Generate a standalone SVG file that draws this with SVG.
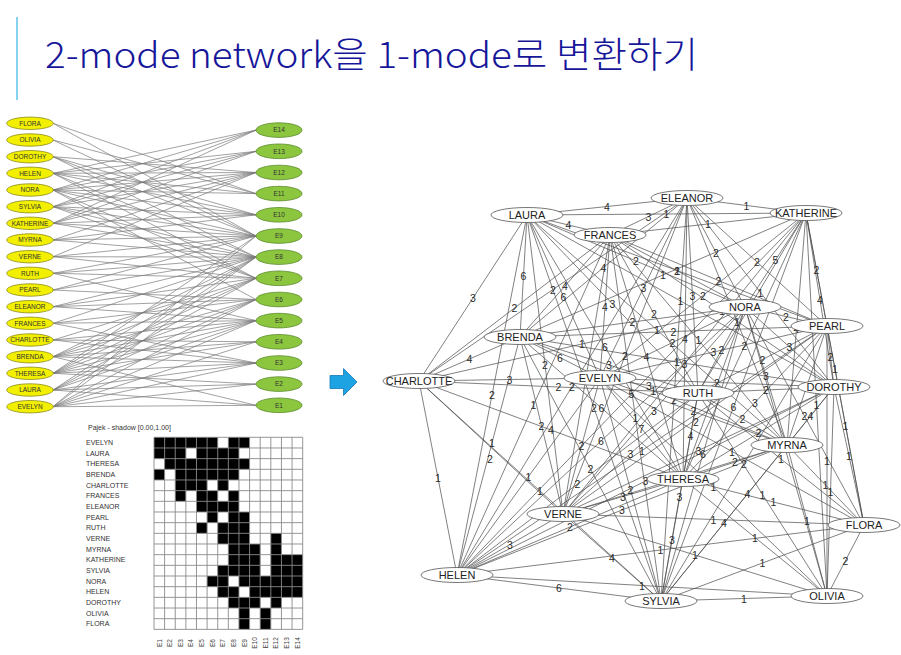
<svg xmlns="http://www.w3.org/2000/svg" width="901" height="655" viewBox="0 0 901 655">
<style>
  .title { font-family: "Noto Sans CJK KR", "Noto Sans", sans-serif; font-size: 36px; font-weight: 300; fill: #16169a; }
  .bip { fill: none; stroke: #7a7a7a; stroke-width: 0.7; }
  .woman ellipse { fill: #f2f000; stroke: #8c8c1e; stroke-width: 0.8; }
  .event ellipse { fill: #8cc63f; stroke: #5c8c2c; stroke-width: 0.8; }
  .small { font-family: "Liberation Sans", Arial, sans-serif; font-size: 6.5px; fill: #333; text-anchor: middle; }
  .mlab { font-family: "Liberation Sans", Arial, sans-serif; font-size: 7px; fill: #333; }
  .clab { font-family: "Liberation Sans", Arial, sans-serif; font-size: 6.5px; fill: #444; text-anchor: middle; }
  .edge { fill: none; stroke: #4a4a4a; stroke-width: 0.7; }
  .wt { font-family: "Liberation Sans", Arial, sans-serif; font-size: 10.5px; fill: #2a2a2a; text-anchor: middle; }
  .node ellipse { fill: #fff; stroke: #555; stroke-width: 0.8; }
  .node text { font-family: "Liberation Sans", Arial, sans-serif; font-size: 11px; fill: #222; text-anchor: middle; }
</style>

<!-- heading -->
<line x1="17" y1="17" x2="17" y2="100" stroke="#86d2f2" stroke-width="2"/>
<text class="title" x="45" y="68" textLength="653" lengthAdjust="spacingAndGlyphs">2-mode network을 1-mode로 변환하기</text>

<!-- two-mode graph: women to events -->
<g id="bipartite-edges">
  <path class="bip" d="M53 406.7L256 405.3M53 406.7L256 384.1M53 406.7L256 363M53 406.7L256 341.8M53 406.7L256 320.6M53 406.7L256 299.5M53 406.7L256 257.1M53 406.7L256 236"/>
  <path class="bip" d="M53 390L256 405.3M53 390L256 384.1M53 390L256 363M53 390L256 320.6M53 390L256 299.5M53 390L256 278.3M53 390L256 257.1"/>
  <path class="bip" d="M53 373.3L256 384.1M53 373.3L256 363M53 373.3L256 341.8M53 373.3L256 320.6M53 373.3L256 299.5M53 373.3L256 278.3M53 373.3L256 257.1M53 373.3L256 236"/>
  <path class="bip" d="M53 356.7L256 405.3M53 356.7L256 363M53 356.7L256 341.8M53 356.7L256 320.6M53 356.7L256 299.5M53 356.7L256 278.3M53 356.7L256 257.1"/>
  <path class="bip" d="M53 340L256 363M53 340L256 341.8M53 340L256 320.6M53 340L256 278.3"/>
  <path class="bip" d="M53 323.3L256 363M53 323.3L256 320.6M53 323.3L256 299.5M53 323.3L256 257.1"/>
  <path class="bip" d="M53 306.7L256 320.6M53 306.7L256 299.5M53 306.7L256 278.3M53 306.7L256 257.1"/>
  <path class="bip" d="M53 290L256 299.5M53 290L256 257.1M53 290L256 236"/>
  <path class="bip" d="M53 273.3L256 320.6M53 273.3L256 278.3M53 273.3L256 257.1M53 273.3L256 236"/>
  <path class="bip" d="M53 256.7L256 278.3M53 256.7L256 257.1M53 256.7L256 236M53 256.7L256 172.5"/>
  <path class="bip" d="M53 240L256 257.1M53 240L256 236M53 240L256 214.8M53 240L256 172.5"/>
  <path class="bip" d="M53 223.3L256 257.1M53 223.3L256 236M53 223.3L256 214.8M53 223.3L256 172.5M53 223.3L256 151.3M53 223.3L256 130.1"/>
  <path class="bip" d="M53 206.7L256 278.3M53 206.7L256 257.1M53 206.7L256 236M53 206.7L256 214.8M53 206.7L256 172.5M53 206.7L256 151.3M53 206.7L256 130.1"/>
  <path class="bip" d="M53 190L256 299.5M53 190L256 278.3M53 190L256 236M53 190L256 214.8M53 190L256 193.6M53 190L256 172.5M53 190L256 151.3M53 190L256 130.1"/>
  <path class="bip" d="M53 173.3L256 278.3M53 173.3L256 257.1M53 173.3L256 214.8M53 173.3L256 193.6M53 173.3L256 172.5M53 173.3L256 151.3M53 173.3L256 130.1"/>
  <path class="bip" d="M53 156.7L256 257.1M53 156.7L256 236M53 156.7L256 214.8M53 156.7L256 172.5"/>
  <path class="bip" d="M53 140L256 236M53 140L256 193.6"/>
  <path class="bip" d="M53 123.3L256 236M53 123.3L256 193.6"/>
</g>

<g id="w-flora" class="woman"><ellipse cx="30" cy="123.3" rx="23.3" ry="6.2"/><text class="small" x="30" y="125.6">FLORA</text></g>
<g id="w-olivia" class="woman"><ellipse cx="30" cy="140" rx="23.3" ry="6.2"/><text class="small" x="30" y="142.3">OLIVIA</text></g>
<g id="w-dorothy" class="woman"><ellipse cx="30" cy="156.7" rx="23.3" ry="6.2"/><text class="small" x="30" y="159">DOROTHY</text></g>
<g id="w-helen" class="woman"><ellipse cx="30" cy="173.3" rx="23.3" ry="6.2"/><text class="small" x="30" y="175.6">HELEN</text></g>
<g id="w-nora" class="woman"><ellipse cx="30" cy="190" rx="23.3" ry="6.2"/><text class="small" x="30" y="192.3">NORA</text></g>
<g id="w-sylvia" class="woman"><ellipse cx="30" cy="206.7" rx="23.3" ry="6.2"/><text class="small" x="30" y="209">SYLVIA</text></g>
<g id="w-katherine" class="woman"><ellipse cx="30" cy="223.3" rx="23.3" ry="6.2"/><text class="small" x="30" y="225.6">KATHERINE</text></g>
<g id="w-myrna" class="woman"><ellipse cx="30" cy="240" rx="23.3" ry="6.2"/><text class="small" x="30" y="242.3">MYRNA</text></g>
<g id="w-verne" class="woman"><ellipse cx="30" cy="256.7" rx="23.3" ry="6.2"/><text class="small" x="30" y="259">VERNE</text></g>
<g id="w-ruth" class="woman"><ellipse cx="30" cy="273.3" rx="23.3" ry="6.2"/><text class="small" x="30" y="275.6">RUTH</text></g>
<g id="w-pearl" class="woman"><ellipse cx="30" cy="290" rx="23.3" ry="6.2"/><text class="small" x="30" y="292.3">PEARL</text></g>
<g id="w-eleanor" class="woman"><ellipse cx="30" cy="306.7" rx="23.3" ry="6.2"/><text class="small" x="30" y="309">ELEANOR</text></g>
<g id="w-frances" class="woman"><ellipse cx="30" cy="323.3" rx="23.3" ry="6.2"/><text class="small" x="30" y="325.6">FRANCES</text></g>
<g id="w-charlotte" class="woman"><ellipse cx="30" cy="340" rx="23.3" ry="6.2"/><text class="small" x="30" y="342.3">CHARLOTTE</text></g>
<g id="w-brenda" class="woman"><ellipse cx="30" cy="356.7" rx="23.3" ry="6.2"/><text class="small" x="30" y="359">BRENDA</text></g>
<g id="w-theresa" class="woman"><ellipse cx="30" cy="373.3" rx="23.3" ry="6.2"/><text class="small" x="30" y="375.6">THERESA</text></g>
<g id="w-laura" class="woman"><ellipse cx="30" cy="390" rx="23.3" ry="6.2"/><text class="small" x="30" y="392.3">LAURA</text></g>
<g id="w-evelyn" class="woman"><ellipse cx="30" cy="406.7" rx="23.3" ry="6.2"/><text class="small" x="30" y="409">EVELYN</text></g>

<g id="e14" class="event"><ellipse cx="279" cy="130.1" rx="23" ry="7.3"/><text class="small" x="279" y="132.4">E14</text></g>
<g id="e13" class="event"><ellipse cx="279" cy="151.3" rx="23" ry="7.3"/><text class="small" x="279" y="153.6">E13</text></g>
<g id="e12" class="event"><ellipse cx="279" cy="172.5" rx="23" ry="7.3"/><text class="small" x="279" y="174.8">E12</text></g>
<g id="e11" class="event"><ellipse cx="279" cy="193.6" rx="23" ry="7.3"/><text class="small" x="279" y="195.9">E11</text></g>
<g id="e10" class="event"><ellipse cx="279" cy="214.8" rx="23" ry="7.3"/><text class="small" x="279" y="217.1">E10</text></g>
<g id="e9" class="event"><ellipse cx="279" cy="236" rx="23" ry="7.3"/><text class="small" x="279" y="238.3">E9</text></g>
<g id="e8" class="event"><ellipse cx="279" cy="257.1" rx="23" ry="7.3"/><text class="small" x="279" y="259.4">E8</text></g>
<g id="e7" class="event"><ellipse cx="279" cy="278.3" rx="23" ry="7.3"/><text class="small" x="279" y="280.6">E7</text></g>
<g id="e6" class="event"><ellipse cx="279" cy="299.5" rx="23" ry="7.3"/><text class="small" x="279" y="301.8">E6</text></g>
<g id="e5" class="event"><ellipse cx="279" cy="320.6" rx="23" ry="7.3"/><text class="small" x="279" y="322.9">E5</text></g>
<g id="e4" class="event"><ellipse cx="279" cy="341.8" rx="23" ry="7.3"/><text class="small" x="279" y="344.1">E4</text></g>
<g id="e3" class="event"><ellipse cx="279" cy="363" rx="23" ry="7.3"/><text class="small" x="279" y="365.3">E3</text></g>
<g id="e2" class="event"><ellipse cx="279" cy="384.1" rx="23" ry="7.3"/><text class="small" x="279" y="386.4">E2</text></g>
<g id="e1" class="event"><ellipse cx="279" cy="405.3" rx="23" ry="7.3"/><text class="small" x="279" y="407.6">E1</text></g>

<!-- affiliation matrix (shadow view) -->
<g id="matrix">
  <text class="mlab" x="88" y="429.5">Pajek - shadow [0.00,1.00]</text>
  <g transform="translate(154,437.3) scale(10.62,10.67)">
    <path fill="#000" d="M0 0h6v1h-6z M7 0h2v1h-2z M0 1h3v1h-3z M4 1h4v1h-4z M1 2h8v1h-8z M0 3h1v1h-1z M2 3h6v1h-6z M2 4h3v1h-3z M6 4h1v1h-1z M2 5h1v1h-1z M4 5h2v1h-2z M7 5h1v1h-1z M4 6h4v1h-4z M5 7h1v1h-1z M7 7h2v1h-2z M4 8h1v1h-1z M6 8h3v1h-3z M6 9h3v1h-3z M11 9h1v1h-1z M7 10h3v1h-3z M11 10h1v1h-1z M7 11h3v1h-3z M11 11h3v1h-3z M6 12h4v1h-4z M11 12h3v1h-3z M5 13h2v1h-2z M8 13h6v1h-6z M6 14h2v1h-2z M9 14h5v1h-5z M7 15h3v1h-3z M11 15h1v1h-1z M8 16h1v1h-1z M10 16h1v1h-1z M8 17h1v1h-1z M10 17h1v1h-1z"/>
    <path fill="none" stroke="#8a8a8a" stroke-width="0.9" vector-effect="non-scaling-stroke" d="M0 0V18M1 0V18M2 0V18M3 0V18M4 0V18M5 0V18M6 0V18M7 0V18M8 0V18M9 0V18M10 0V18M11 0V18M12 0V18M13 0V18M14 0V18M0 0H14M0 1H14M0 2H14M0 3H14M0 4H14M0 5H14M0 6H14M0 7H14M0 8H14M0 9H14M0 10H14M0 11H14M0 12H14M0 13H14M0 14H14M0 15H14M0 16H14M0 17H14M0 18H14"/>
  </g>
  <g class="mlab">
    <text x="86" y="445">EVELYN</text>
    <text x="86" y="455.7">LAURA</text>
    <text x="86" y="466.3">THERESA</text>
    <text x="86" y="477">BRENDA</text>
    <text x="86" y="487.7">CHARLOTTE</text>
    <text x="86" y="498.3">FRANCES</text>
    <text x="86" y="509">ELEANOR</text>
    <text x="86" y="519.7">PEARL</text>
    <text x="86" y="530.3">RUTH</text>
    <text x="86" y="541">VERNE</text>
    <text x="86" y="551.7">MYRNA</text>
    <text x="86" y="562.3">KATHERINE</text>
    <text x="86" y="573">SYLVIA</text>
    <text x="86" y="583.7">NORA</text>
    <text x="86" y="594.3">HELEN</text>
    <text x="86" y="605">DOROTHY</text>
    <text x="86" y="615.7">OLIVIA</text>
    <text x="86" y="626.3">FLORA</text>
  </g>
  <g class="clab">
    <text transform="translate(161.6,643) rotate(-90)">E1</text>
    <text transform="translate(172.2,643) rotate(-90)">E2</text>
    <text transform="translate(182.8,643) rotate(-90)">E3</text>
    <text transform="translate(193.4,643) rotate(-90)">E4</text>
    <text transform="translate(204.1,643) rotate(-90)">E5</text>
    <text transform="translate(214.7,643) rotate(-90)">E6</text>
    <text transform="translate(225.3,643) rotate(-90)">E7</text>
    <text transform="translate(235.9,643) rotate(-90)">E8</text>
    <text transform="translate(246.5,643) rotate(-90)">E9</text>
    <text transform="translate(257.2,643) rotate(-90)">E10</text>
    <text transform="translate(267.8,643) rotate(-90)">E11</text>
    <text transform="translate(278.4,643) rotate(-90)">E12</text>
    <text transform="translate(289,643) rotate(-90)">E13</text>
    <text transform="translate(299.7,643) rotate(-90)">E14</text>
  </g>
</g>

<!-- conversion arrow -->
<path d="M330 375.5H343.5V368.5L357 382L343.5 395.5V388.5H330Z" fill="#1ea3e2" stroke="#1479b8" stroke-width="0.8"/>

<!-- one-mode projection -->
<g id="edges">
  <path class="edge" d="M600 378L527 215M600 378L683 479M600 378L520 337M600 378L419 381M600 378L610 235M600 378L687 198M600 378L827 326M600 378L698 393M600 378L563 514M600 378L787 445M600 378L806 213M600 378L661 601M600 378L745 307M600 378L457 575M600 378L834 387M600 378L827 596M600 378L864 525"/>
  <path class="edge" d="M527 215L683 479M527 215L520 337M527 215L419 381M527 215L610 235M527 215L687 198M527 215L827 326M527 215L698 393M527 215L563 514M527 215L787 445M527 215L806 213M527 215L661 601M527 215L745 307M527 215L457 575M527 215L834 387"/>
  <path class="edge" d="M683 479L520 337M683 479L419 381M683 479L610 235M683 479L687 198M683 479L827 326M683 479L698 393M683 479L563 514M683 479L787 445M683 479L806 213M683 479L661 601M683 479L745 307M683 479L457 575M683 479L834 387M683 479L827 596M683 479L864 525"/>
  <path class="edge" d="M520 337L419 381M520 337L610 235M520 337L687 198M520 337L827 326M520 337L698 393M520 337L563 514M520 337L787 445M520 337L806 213M520 337L661 601M520 337L745 307M520 337L457 575M520 337L834 387"/>
  <path class="edge" d="M419 381L610 235M419 381L687 198M419 381L698 393M419 381L563 514M419 381L661 601M419 381L745 307M419 381L457 575"/>
  <path class="edge" d="M610 235L687 198M610 235L827 326M610 235L698 393M610 235L563 514M610 235L787 445M610 235L806 213M610 235L661 601M610 235L745 307M610 235L457 575M610 235L834 387"/>
  <path class="edge" d="M687 198L827 326M687 198L698 393M687 198L563 514M687 198L787 445M687 198L806 213M687 198L661 601M687 198L745 307M687 198L457 575M687 198L834 387"/>
  <path class="edge" d="M827 326L698 393M827 326L563 514M827 326L787 445M827 326L806 213M827 326L661 601M827 326L745 307M827 326L457 575M827 326L834 387M827 326L827 596M827 326L864 525"/>
  <path class="edge" d="M698 393L563 514M698 393L787 445M698 393L806 213M698 393L661 601M698 393L745 307M698 393L457 575M698 393L834 387M698 393L827 596M698 393L864 525"/>
  <path class="edge" d="M563 514L787 445M563 514L806 213M563 514L661 601M563 514L745 307M563 514L457 575M563 514L834 387M563 514L827 596M563 514L864 525"/>
  <path class="edge" d="M787 445L806 213M787 445L661 601M787 445L745 307M787 445L457 575M787 445L834 387M787 445L827 596M787 445L864 525"/>
  <path class="edge" d="M806 213L661 601M806 213L745 307M806 213L457 575M806 213L834 387M806 213L827 596M806 213L864 525"/>
  <path class="edge" d="M661 601L745 307M661 601L457 575M661 601L834 387M661 601L827 596M661 601L864 525"/>
  <path class="edge" d="M745 307L457 575M745 307L834 387M745 307L827 596M745 307L864 525"/>
  <path class="edge" d="M457 575L834 387M457 575L827 596M457 575L864 525"/>
  <path class="edge" d="M834 387L827 596M834 387L864 525M827 596L864 525"/>
</g>

<g id="edge-weights" class="wt">
  <text x="563.5" y="300.5">6</text><text x="641.5" y="432.5">7</text><text x="560" y="361.5">6</text><text x="509.5" y="383.5">3</text>
  <text x="605" y="310.5">4</text><text x="643.5" y="292">3</text><text x="713.5" y="356">3</text><text x="649" y="389.5">3</text>
  <text x="581.5" y="450">2</text><text x="693.5" y="414.5">2</text><text x="703" y="299.5">2</text><text x="630.5" y="493.5">2</text>
  <text x="672.5" y="346.5">2</text><text x="528.5" y="480.5">1</text><text x="717" y="386.5">2</text><text x="713.5" y="491">1</text>
  <text x="732" y="455.5">1</text>
  <text x="605" y="351">6</text><text x="523.5" y="280">6</text><text x="473" y="302">3</text><text x="568.5" y="229">4</text>
  <text x="607" y="210.5">4</text><text x="677" y="274.5">2</text><text x="612.5" y="308">3</text><text x="545" y="368.5">2</text>
  <text x="657" y="334">1</text><text x="666.5" y="218">1</text><text x="594" y="412">2</text><text x="636" y="265">2</text>
  <text x="492" y="399">2</text><text x="680.5" y="305">1</text>
  <text x="601.5" y="412">6</text><text x="551" y="434">4</text><text x="646.5" y="361">4</text><text x="685" y="342.5">4</text>
  <text x="755" y="406.5">3</text><text x="690.5" y="440">4</text><text x="623" y="500.5">3</text><text x="735" y="466">2</text>
  <text x="744.5" y="350">2</text><text x="672" y="544">3</text><text x="570" y="531">2</text>
  <text x="758.5" y="437">2</text><text x="755" y="541.5">1</text><text x="773.5" y="506">1</text>
  <text x="469.5" y="363">4</text><text x="565" y="290">4</text><text x="603.5" y="271.5">4</text><text x="673.5" y="335.5">2</text>
  <text x="609" y="369">3</text><text x="541.5" y="429.5">2</text><text x="653.5" y="395">1</text><text x="663" y="279">1</text>
  <text x="590.5" y="473">2</text><text x="632.5" y="326">2</text><text x="490" y="463">2</text><text x="677" y="366">1</text>
  <text x="514.5" y="312">2</text><text x="553" y="293.5">2</text><text x="558.5" y="391">2</text><text x="492" y="447">1</text>
  <text x="540" y="495">1</text><text x="582" y="348">1</text><text x="438" y="482">1</text>
  <text x="648.5" y="220.5">3</text><text x="718.5" y="284.5">2</text><text x="654" y="318">2</text>
  <text x="698.5" y="344">1</text><text x="708" y="228">1</text><text x="635.5" y="422">1</text><text x="677.5" y="275">1</text>
  <text x="533.5" y="409">1</text><text x="722" y="315">1</text>
  <text x="757" y="266">2</text><text x="692.5" y="299.5">3</text><text x="625" y="360">2</text><text x="737" y="325.5">1</text>
  <text x="746.5" y="209.5">1</text><text x="674" y="403.5">2</text><text x="716" y="256.5">2</text><text x="572" y="390.5">2</text>
  <text x="760.5" y="296.5">1</text>
  <text x="762.5" y="363.5">2</text><text x="696" y="426">2</text><text x="816.5" y="273.5">2</text>
  <text x="744" y="467.5">2</text><text x="786" y="320.5">2</text><text x="642" y="454.5">1</text><text x="830.5" y="360.5">2</text>
  <text x="827" y="465">1</text><text x="845.5" y="429.5">1</text>
  <text x="630.5" y="457.5">3</text><text x="742.5" y="423">2</text><text x="679.5" y="501">3</text>
  <text x="721.5" y="354">2</text><text x="577.5" y="488">2</text><text x="766" y="394">2</text><text x="762.5" y="498.5">1</text>
  <text x="781" y="463">1</text>
  <text x="684.5" y="367.5">3</text><text x="612" y="561.5">4</text><text x="654" y="414.5">3</text>
  <text x="510" y="548.5">3</text><text x="698.5" y="454.5">3</text><text x="695" y="559">1</text><text x="713.5" y="523.5">1</text>
  <text x="796.5" y="333">4</text><text x="724" y="527">4</text><text x="766" y="380">3</text><text x="622" y="514">3</text>
  <text x="810.5" y="420">4</text><text x="807" y="524.5">1</text><text x="825.5" y="489">1</text>
  <text x="733.5" y="411">6</text><text x="775.5" y="264">5</text><text x="631.5" y="398">5</text><text x="820" y="304">4</text>
  <text x="816.5" y="408.5">1</text><text x="835" y="373">1</text>
  <text x="703" y="458">6</text><text x="559" y="592">6</text><text x="747.5" y="498">4</text><text x="744" y="602.5">1</text>
  <text x="762.5" y="567">1</text>
  <text x="601" y="445">6</text><text x="789.5" y="351">3</text><text x="804.5" y="420">2</text>
  <text x="645.5" y="485">3</text><text x="642" y="589.5">1</text><text x="660.5" y="554">1</text>
  <text x="830.5" y="495.5">1</text><text x="849" y="460">1</text><text x="845.5" y="564.5">2</text>
</g>

<g id="n-laura" class="node"><ellipse cx="527" cy="215" rx="36" ry="7.5"/><text x="527" y="219">LAURA</text></g>
<g id="n-eleanor" class="node"><ellipse cx="687" cy="198" rx="36" ry="7.5"/><text x="687" y="202">ELEANOR</text></g>
<g id="n-katherine" class="node"><ellipse cx="806" cy="213" rx="36" ry="7.5"/><text x="806" y="217">KATHERINE</text></g>
<g id="n-frances" class="node"><ellipse cx="610" cy="235" rx="36" ry="7.5"/><text x="610" y="239">FRANCES</text></g>
<g id="n-nora" class="node"><ellipse cx="745" cy="307" rx="36" ry="7.5"/><text x="745" y="311">NORA</text></g>
<g id="n-pearl" class="node"><ellipse cx="827" cy="326" rx="36" ry="7.5"/><text x="827" y="330">PEARL</text></g>
<g id="n-brenda" class="node"><ellipse cx="520" cy="337" rx="36" ry="7.5"/><text x="520" y="341">BRENDA</text></g>
<g id="n-charlotte" class="node"><ellipse cx="419" cy="381" rx="36" ry="7.5"/><text x="419" y="385">CHARLOTTE</text></g>
<g id="n-evelyn" class="node"><ellipse cx="600" cy="378" rx="36" ry="7.5"/><text x="600" y="382">EVELYN</text></g>
<g id="n-ruth" class="node"><ellipse cx="698" cy="393" rx="36" ry="7.5"/><text x="698" y="397">RUTH</text></g>
<g id="n-dorothy" class="node"><ellipse cx="834" cy="387" rx="36" ry="7.5"/><text x="834" y="391">DOROTHY</text></g>
<g id="n-myrna" class="node"><ellipse cx="787" cy="445" rx="36" ry="7.5"/><text x="787" y="449">MYRNA</text></g>
<g id="n-theresa" class="node"><ellipse cx="683" cy="479" rx="36" ry="7.5"/><text x="683" y="483">THERESA</text></g>
<g id="n-verne" class="node"><ellipse cx="563" cy="514" rx="36" ry="7.5"/><text x="563" y="518">VERNE</text></g>
<g id="n-flora" class="node"><ellipse cx="864" cy="525" rx="36" ry="7.5"/><text x="864" y="529">FLORA</text></g>
<g id="n-helen" class="node"><ellipse cx="457" cy="575" rx="36" ry="7.5"/><text x="457" y="579">HELEN</text></g>
<g id="n-olivia" class="node"><ellipse cx="827" cy="596" rx="36" ry="7.5"/><text x="827" y="600">OLIVIA</text></g>
<g id="n-sylvia" class="node"><ellipse cx="661" cy="601" rx="36" ry="7.5"/><text x="661" y="605">SYLVIA</text></g>
</svg>
